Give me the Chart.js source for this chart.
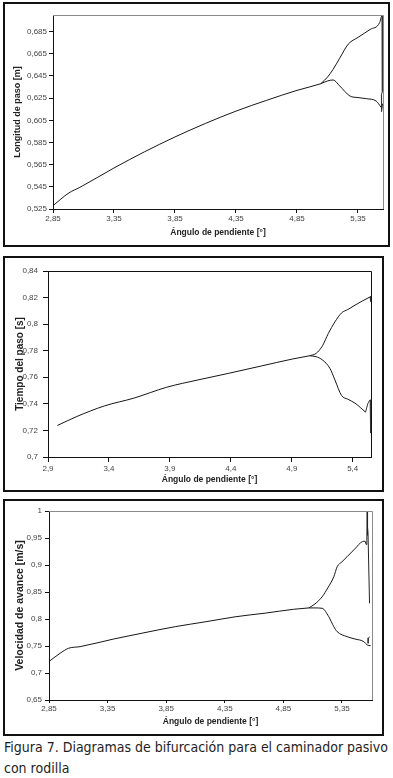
<!DOCTYPE html>
<html><head><meta charset="utf-8">
<script src="https://cdn.jsdelivr.net/npm/chart.js@4.4.1/dist/chart.umd.min.js"></script>
<style>
html,body{margin:0;padding:0;background:#fff}
body{width:393px;height:778px;position:relative;overflow:hidden;font-family:"Liberation Sans",Arial,sans-serif}
.box{position:absolute;border:2px solid #111;box-sizing:border-box}
canvas{position:absolute;left:0}
.cap{position:absolute;left:4px;font-family:"DejaVu Sans",sans-serif;font-size:13.5px;color:#1e1e1e;white-space:nowrap;transform-origin:0 0;line-height:16px}
</style></head><body>
<div class="box" style="left:3px;top:2px;width:387px;height:245px"></div>
<div class="box" style="left:3px;top:256px;width:381px;height:236px"></div>
<div class="box" style="left:3px;top:499px;width:381px;height:237px"></div>
<canvas id="c1" width="393" height="247" style="top:0"></canvas>
<canvas id="c2" width="393" height="240" style="top:252px"></canvas>
<canvas id="c3" width="393" height="241" style="top:495px"></canvas>
<div class="cap" id="cap1" style="top:739px">Figura 7. Diagramas de bifurcación para el caminador pasivo</div>
<div class="cap" id="cap2" style="top:760px">con rodilla</div>
<script>
// ---------- Chart 1: Longitud de paso ----------
const xTicks1 = [2.85, 3.35, 3.85, 4.35, 4.85, 5.35];
const yTicks1 = [0.525, 0.545, 0.565, 0.585, 0.605, 0.625, 0.645, 0.665, 0.685];
const slopeMain1 = [2.85, 2.98, 3.07, 3.35, 3.6, 3.85, 4.1, 4.35, 4.6, 4.85, 4.95, 5.045];
const stepMain1  = [0.528, 0.5395, 0.5445, 0.562, 0.5766, 0.590, 0.6022, 0.6133, 0.623, 0.632, 0.635, 0.638];
const slopeUp1 = [5.045, 5.1, 5.146, 5.2, 5.27, 5.35, 5.45, 5.528, 5.54];
const stepUp1  = [0.638, 0.644, 0.651, 0.661, 0.6737, 0.6798, 0.687, 0.6933, 0.698];
const slopeLow1 = [5.045, 5.1, 5.146, 5.2, 5.283, 5.35, 5.42, 5.499, 5.54];
const stepLow1  = [0.638, 0.6405, 0.6414, 0.636, 0.627, 0.6255, 0.6245, 0.6224, 0.6166];
const slopeChaos1 = [5.54, 5.548, 5.552, 5.548, 5.542, 5.540, 5.546, 5.552];
const stepChaos1  = [0.698, 0.700, 0.694, 0.631, 0.628, 0.617, 0.613, 0.620];

// ---------- Chart 2: Tiempo del paso ----------
const xTicks2 = [2.9, 3.4, 3.9, 4.4, 4.9, 5.4];
const yTicks2 = [0.7, 0.72, 0.74, 0.76, 0.78, 0.8, 0.82, 0.84];
const slopeMain2 = [2.977, 3.137, 3.365, 3.604, 3.874, 4.13, 4.383, 4.65, 4.903, 5.046];
const timeMain2  = [0.7237, 0.7305, 0.7385, 0.7443, 0.7525, 0.758, 0.763, 0.7685, 0.7737, 0.7762];
const slopeUp2 = [5.046, 5.1, 5.152, 5.2, 5.254, 5.309, 5.36, 5.419, 5.48, 5.543];
const timeUp2  = [0.7762, 0.778, 0.7837, 0.793, 0.8017, 0.8085, 0.811, 0.8143, 0.8175, 0.8205];
const slopeLow2 = [5.046, 5.1, 5.152, 5.213, 5.254, 5.309, 5.36, 5.419, 5.505];
const timeLow2  = [0.7762, 0.7755, 0.773, 0.7667, 0.758, 0.7462, 0.7435, 0.7405, 0.7338];
const slopeChaos2a = [5.543, 5.548, 5.546];
const timeChaos2a  = [0.8205, 0.821, 0.817];
const slopeChaos2b = [5.505, 5.525, 5.543, 5.545, 5.546, 5.548, 5.549];
const timeChaos2b  = [0.7338, 0.7405, 0.743, 0.73, 0.718, 0.735, 0.742];

// ---------- Chart 3: Velocidad de avance ----------
const xTicks3 = [2.85, 3.35, 3.85, 4.35, 4.85, 5.35];
const yTicks3 = [0.65, 0.7, 0.75, 0.8, 0.85, 0.9, 0.95, 1];
const slopeMain3 = [2.859, 2.944, 3.015, 3.115, 3.403, 3.65, 3.927, 4.19, 4.446, 4.7, 4.938, 5.066];
const velMain3   = [0.7228, 0.7364, 0.7457, 0.7488, 0.763, 0.774, 0.7858, 0.795, 0.8043, 0.811, 0.818, 0.8205];
const slopeUp3 = [5.066, 5.12, 5.181, 5.23, 5.28, 5.309, 5.35, 5.394, 5.46, 5.523, 5.548];
const velUp3   = [0.8205, 0.828, 0.8413, 0.858, 0.8783, 0.8969, 0.906, 0.9154, 0.93, 0.9432, 0.944];
const slopeLow3 = [5.066, 5.12, 5.181, 5.237, 5.28, 5.309, 5.394, 5.46, 5.537, 5.565, 5.594];
const velLow3   = [0.8205, 0.8205, 0.8198, 0.8043, 0.7858, 0.7765, 0.7673, 0.763, 0.758, 0.7519, 0.7506];
const slopeChaos3 = [5.548, 5.556, 5.562, 5.565, 5.567, 5.569, 5.572, 5.585];
const velChaos3   = [0.944, 0.938, 0.945, 1.0, 0.955, 0.97, 0.96, 0.829];
const slopeBracket3 = [5.588, 5.575, 5.573];
const velBracket3   = [0.767, 0.765, 0.755];

const xTitle = 'Ángulo de pendiente [°]';

function pts(xs, ys) { return xs.map((x, i) => ({x: x, y: ys[i]})); }
function fmt(v) { return String(v).replace('.', ','); }

const framePlugin = {
  id: 'frame',
  afterDraw(chart, args, opts) {
    const a = chart.chartArea, c = chart.ctx;
    c.save();
    c.strokeStyle = opts.color || '#888';
    c.lineWidth = 1;
    c.beginPath();
    c.moveTo(Math.round(a.left), Math.round(a.top) + 0.5);
    c.lineTo(Math.round(a.right) + 0.5, Math.round(a.top) + 0.5);
    c.lineTo(Math.round(a.right) + 0.5, Math.round(a.bottom));
    c.stroke();
    c.restore();
  }
};

function line(data, smooth, color) {
  const ds = {
    data: data, showLine: true, pointRadius: 0, borderWidth: 1,
    borderColor: color || '#161616', fill: false, tension: 0
  };
  if (smooth) { ds.cubicInterpolationMode = 'monotone'; ds.tension = 0.4; }
  return ds;
}

function makeChart(id, g) {
  return new Chart(document.getElementById(id), {
    type: 'scatter',
    data: { datasets: g.datasets },
    plugins: [framePlugin],
    options: {
      responsive: false, animation: false, devicePixelRatio: 1,
      layout: { padding: { left: 0, top: g.padTop, right: g.padRight, bottom: 0 } },
      plugins: { legend: { display: false }, tooltip: { enabled: false }, frame: { color: g.frameColor } },
      scales: {
        x: {
          type: 'linear', min: g.xMin, max: g.xMax,
          afterBuildTicks: s => { s.ticks = g.xTicks.map(v => ({value: v})); },
          afterFit: s => { s.height = g.xHeight; },
          border: { display: true, color: '#111', width: 1 },
          grid: { display: true, drawOnChartArea: false, drawTicks: true, tickLength: g.xTickLen, color: '#111' },
          ticks: { callback: fmt, maxRotation: 0, autoSkip: false, padding: g.xTickPad, color: '#444',
                   font: { family: 'Liberation Sans', size: 8 } },
          title: { display: true, text: xTitle, color: '#222', padding: { top: 0, bottom: g.xTitlePad },
                   font: { family: 'Liberation Sans', size: 8.5, weight: 'bold' } }
        },
        y: {
          type: 'linear', min: g.yMin, max: g.yMax,
          afterBuildTicks: s => { s.ticks = g.yTicks.map(v => ({value: v})); },
          afterFit: s => { s.width = g.yWidth; },
          border: { display: true, color: '#111', width: 1 },
          grid: { display: true, drawOnChartArea: false, drawTicks: true, tickLength: g.yTickLen, color: '#111' },
          ticks: { callback: fmt, autoSkip: false, padding: g.yTickPad, color: '#444',
                   font: { family: 'Liberation Sans', size: 8 } },
          title: { display: true, text: g.yTitle, color: '#222', padding: { top: g.yTitlePad, bottom: 0 },
                   font: { family: 'Liberation Sans', size: g.yTitleSize, weight: 'bold' } }
        }
      }
    }
  });
}

makeChart('c1', {
  datasets: [
    line(pts(slopeMain1, stepMain1), true),
    line(pts(slopeUp1, stepUp1), true),
    line(pts(slopeLow1, stepLow1), true),
    line(pts(slopeChaos1, stepChaos1), false, '#333')
  ],
  xMin: 2.85, xMax: 5.555, yMin: 0.525, yMax: 0.70,
  xTicks: xTicks1, yTicks: yTicks1,
  padTop: 15, padRight: 10, yWidth: 53, xHeight: 38,
  xTickLen: 4, xTickPad: 1, yTickLen: 4, yTickPad: 2,
  xTitlePad: 9, yTitlePad: 12.5, yTitleSize: 9,
  yTitle: 'Longitud de paso [m]', frameColor: '#8a8a8a'
});

makeChart('c2', {
  datasets: [
    line(pts(slopeMain2, timeMain2), true),
    line(pts(slopeUp2, timeUp2), true),
    line(pts(slopeLow2, timeLow2), true),
    line(pts(slopeChaos2a, timeChaos2a), false, '#333'),
    line(pts(slopeChaos2b, timeChaos2b), false, '#333')
  ],
  xMin: 2.9, xMax: 5.55, yMin: 0.70, yMax: 0.84,
  xTicks: xTicks2, yTicks: yTicks2,
  padTop: 19, padRight: 22, yWidth: 48, xHeight: 35,
  xTickLen: 5, xTickPad: 2, yTickLen: 5, yTickPad: 5,
  xTitlePad: 7, yTitlePad: 14.5, yTitleSize: 10,
  yTitle: 'Tiempo del paso [s]', frameColor: '#111'
});

makeChart('c3', {
  datasets: [
    line(pts(slopeMain3, velMain3), true),
    line(pts(slopeUp3, velUp3), true),
    line(pts(slopeLow3, velLow3), true),
    line(pts(slopeChaos3, velChaos3), false, '#222'),
    line(pts(slopeBracket3, velBracket3), false, '#333')
  ],
  xMin: 2.85, xMax: 5.606, yMin: 0.65, yMax: 1.0,
  xTicks: xTicks3, yTicks: yTicks3,
  padTop: 16, padRight: 21, yWidth: 49, xHeight: 36,
  xTickLen: 3, xTickPad: 1, yTickLen: 4, yTickPad: 3,
  xTitlePad: 9, yTitlePad: 13.5, yTitleSize: 10.5,
  yTitle: 'Velocidad de avance [m/s]', frameColor: '#8a8a8a'
});

// fit caption line 1 to the reference width
const cap1 = document.getElementById('cap1');
const w = cap1.getBoundingClientRect().width;
const sx = 384 / w;
cap1.style.transform = 'scaleX(' + sx + ')';
document.getElementById('cap2').style.transform = 'scaleX(' + sx + ')';
</script>
</body></html>
